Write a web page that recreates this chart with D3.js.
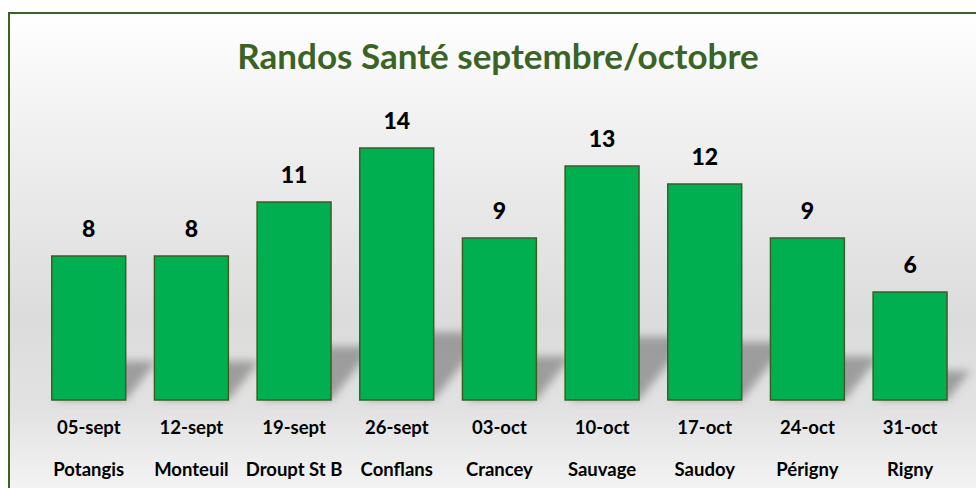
<!DOCTYPE html>
<html>
<head>
<meta charset="utf-8">
<script src="https://cdn.jsdelivr.net/npm/d3@7"></script>
<style>
  html, body { margin: 0; padding: 0; background: #fff; }
  svg { display: block; }
</style>
</head>
<body>
<div id="chart"></div>
<script>
// données du graphique
const dates = ["05-sept", "12-sept", "19-sept", "26-sept", "03-oct", "10-oct", "17-oct", "24-oct", "31-oct"];
const lieux = ["Potangis", "Monteuil", "Droupt St B", "Conflans", "Crancey", "Sauvage", "Saudoy", "Périgny", "Rigny"];
const participants = [8, 8, 11, 14, 9, 13, 12, 9, 6];
const titre = "Randos Santé septembre/octobre";

const W = 976, H = 488;
const font = "Lato, 'Open Sans', sans-serif";

const svg = d3.select("#chart").append("svg")
    .attr("width", W)
    .attr("height", H);

const defs = svg.append("defs");

// dégradé de fond
const grad = defs.append("linearGradient")
    .attr("id", "bg")
    .attr("x1", 0).attr("y1", 0).attr("x2", 0).attr("y2", 1);
grad.append("stop").attr("offset", "0%").attr("stop-color", "#ffffff");
grad.append("stop").attr("offset", "22%").attr("stop-color", "#f1f1f1");
grad.append("stop").attr("offset", "60%").attr("stop-color", "#dcdcdc");
grad.append("stop").attr("offset", "78%").attr("stop-color", "#e2e2e2");
grad.append("stop").attr("offset", "100%").attr("stop-color", "#fafafa");

const blur = defs.append("filter")
    .attr("id", "blur")
    .attr("x", "-50%").attr("y", "-50%").attr("width", "200%").attr("height", "200%");
blur.append("feGaussianBlur").attr("stdDeviation", 4);

// cadre du graphique (dépasse à droite et en bas)
svg.append("rect")
    .attr("x", 9).attr("y", 13)
    .attr("width", W + 20).attr("height", H + 20)
    .attr("fill", "url(#bg)")
    .attr("stroke", "#3b6326")
    .attr("stroke-width", 2);

// échelles
const x = d3.scaleBand()
    .domain(dates)
    .range([37.4, 961.4])
    .paddingInner(0.28)
    .paddingOuter(0.14);

const y = d3.scaleLinear()
    .domain([0, 16])
    .range([400, 112]);

const data = dates.map((d, i) => ({date: d, lieu: lieux[i], n: participants[i]}));

// ombres en perspective
svg.append("g")
    .attr("filter", "url(#blur)")
    .selectAll("polygon")
    .data(data)
    .join("polygon")
    .attr("points", d => {
        const x0 = x(d.date), x1 = x0 + x.bandwidth();
        const h = (y(0) - y(d.n)) * 0.27;
        const dx = h * 0.8;
        return [[x0 + 4, y(0)], [x1, y(0)], [x1 + dx, y(0) - h], [x0 + dx + 4, y(0) - h]].join(" ");
    })
    .attr("fill", "#707070")
    .attr("opacity", 0.6);

// barres
svg.append("g")
    .selectAll("rect")
    .data(data)
    .join("rect")
    .attr("x", d => x(d.date))
    .attr("y", d => y(d.n))
    .attr("width", x.bandwidth())
    .attr("height", d => y(0) - y(d.n))
    .attr("fill", "#00b050")
    .attr("stroke", "#3b5e25")
    .attr("stroke-width", 1.5);

// valeurs
svg.append("g")
    .selectAll("text")
    .data(data)
    .join("text")
    .attr("x", d => x(d.date) + x.bandwidth() / 2)
    .attr("y", d => y(d.n) - 19)
    .attr("text-anchor", "middle")
    .style("font-family", font)
    .style("font-weight", "900")
    .style("font-size", "23px")
    .attr("fill", "#000")
    .text(d => d.n);

// axe des catégories : dates + lieux
const axis = svg.append("g")
    .attr("transform", `translate(0,${y(0)})`)
    .call(d3.axisBottom(x).tickSize(0).tickPadding(0).tickFormat(() => ""));
axis.select(".domain").remove();

axis.selectAll(".tick").each(function(d, i) {
    const t = d3.select(this);
    t.append("text")
        .attr("y", 34)
        .attr("text-anchor", "middle")
        .attr("fill", "#000")
        .style("font-family", font)
        .style("font-weight", "bold")
        .style("font-size", "18.5px")
        .text(d);
    t.append("text")
        .attr("y", 76)
        .attr("text-anchor", "middle")
        .attr("fill", "#000")
        .style("font-family", font)
        .style("font-weight", "bold")
        .style("font-size", "18.5px")
        .text(lieux[i]);
});

// titre
svg.append("text")
    .attr("x", 498)
    .attr("y", 69)
    .attr("text-anchor", "middle")
    .style("font-family", font)
    .style("font-weight", "bold")
    .style("font-size", "35px")
    .attr("fill", "#3b6326")
    .text(titre);
</script>
</body>
</html>
